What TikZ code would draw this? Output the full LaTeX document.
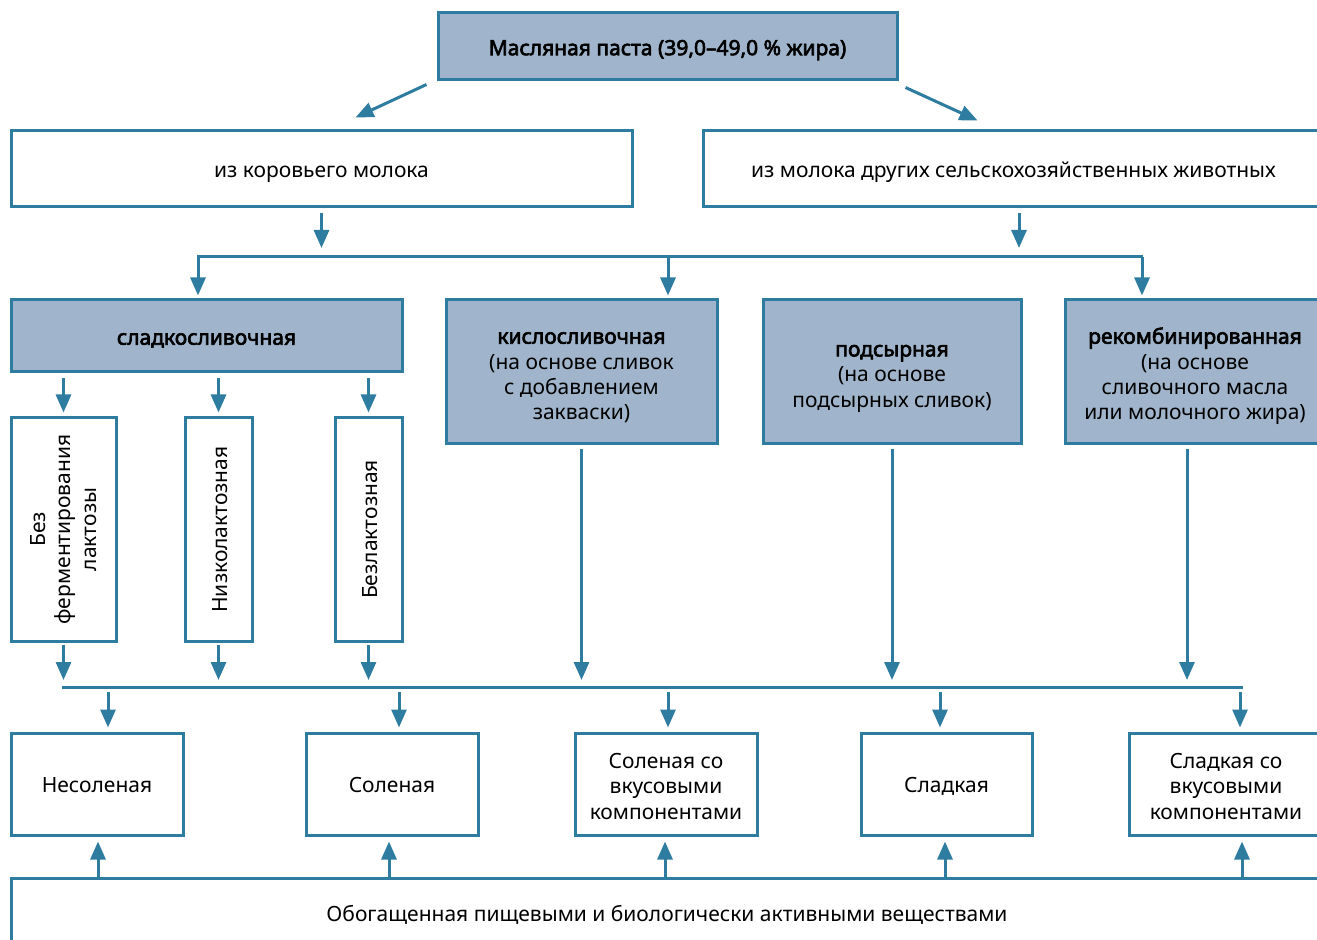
\documentclass[tikz,border=0pt]{standalone}
\usepackage{fontspec}
\setmainfont{Noto Sans}[BoldFont={Noto Sans},BoldFeatures={FakeBold=3}]
\usetikzlibrary{arrows.meta}
\definecolor{edge}{HTML}{2E7CA0}
\definecolor{boxfill}{HTML}{A0B5CB}
\newcommand{\lift}{\rule{0pt}{9.8pt}}

\begin{document}
\begin{tikzpicture}[x=0.5pt,y=-0.5pt,
    font=\fontsize{10.5}{12.7}\selectfont,
    box/.style={draw=edge,line width=1.5pt,fill=white,inner sep=0pt,align=center,text depth=0pt,
      execute at begin node={\rule{0pt}{8.7pt}}},
    head/.style={box,fill=boxfill},
    multi/.style={execute at begin node={}},
    upright/.style={box,rotate=90,text depth={},execute at begin node={}},
    arr/.style={draw=edge,line width=1.5pt,-{Triangle[length=9pt,width=7.5pt]}},
    bus/.style={draw=edge,line width=1.5pt}]
\useasboundingbox (0,0) rectangle (1317,940);
\clip (0,0) rectangle (1317,940);

% top
\node[head,minimum width=229.5pt,minimum height=33.5pt] (paste) at (667.5,46.5) {\bfseries Масляная паста (39,0–49,0~\% жира)};
\node[box,minimum width=310.5pt,minimum height=38pt] (cow) at (321.5,169) {из коровьего молока};
\node[box,minimum width=310.5pt,minimum height=38pt] (other) at (1013.5,169) {из молока других сельскохозяйственных животных};
\draw[arr] ([xshift=-5pt,yshift=-1.5pt]paste.south west) -- ([xshift=17pt,yshift=6pt]cow.north);
\draw[arr] ([xshift=3.5pt,yshift=-3pt]paste.south east) -- ([xshift=-18pt,yshift=4.5pt]other.north);

% kinds
\node[head,minimum width=195.5pt,minimum height=36pt] (sweet) at (206.5,336) {\bfseries сладкосливочная};
\node[head,multi,minimum width=135.5pt,minimum height=72pt] (sour) at (581.5,372) {\lift\textbf{кислосливочная}\\(на основе сливок\\с добавлением\\закваски)};
\node[head,multi,minimum width=129pt,minimum height=72pt] (cheese) at (892,372) {\lift\textbf{подсырная}\\(на основе\\подсырных сливок)};
\node[head,multi,minimum width=130pt,minimum height=72pt] (recomb) at (1195,372) {\lift\textbf{рекомбинированная}\\(на основе\\сливочного масла\\или молочного жира)};

\coordinate (busTL) at (197,257);
\coordinate (busTR) at (1143,257);
\draw[bus] (busTL) -- (busTR);
\draw[arr,shorten <=2.5pt,shorten >=4.5pt] (cow.south) -- (cow.south |- busTL);
\coordinate (tap) at (1019,0);
\draw[arr,shorten <=2.5pt,shorten >=4.5pt] (tap |- other.south) -- (tap |- busTL);
\foreach \x/\n in {198/sweet,668/sour,1142/recomb} {
  \coordinate (tap) at (\x,257);
  \draw[arr,shorten >=1.5pt] (tap) -- (tap |- \n.north);
}

% lactose
\node[upright,minimum width=111.5pt,minimum height=52.5pt] (lact0) at (63.5,529.5) {Без\\ферментирования\\лактозы};
\node[upright,minimum width=111.5pt,minimum height=33.5pt] (lact1) at (218.5,529.5) {Низколактозная};
\node[upright,minimum width=111.5pt,minimum height=33.5pt] (lact2) at (368.5,529.5) {Безлактозная};
\foreach \n in {lact0,lact1,lact2}
  \draw[arr,shorten <=2.5pt,shorten >=2pt] (sweet.south -| \n.east) -- (\n.east);

\coordinate (busL) at (62,687);
\coordinate (busR) at (1243,687);
\draw[bus] (busL) -- (busR);
\foreach \n in {lact0,lact1,lact2}
  \draw[arr,shorten <=1pt,shorten >=3.5pt] (\n.west) -- (\n.west |- busL);
\draw[arr,shorten <=2pt,shorten >=3.5pt] (sour.south) -- (sour.south |- busL);
\draw[arr,shorten <=2pt,shorten >=3.5pt] (cheese.south) -- (cheese.south |- busL);
\draw[arr,shorten <=2pt,shorten >=3.5pt] ([xshift=-4pt]recomb.south) -- ([xshift=-4pt]recomb.south |- busL);

% taste
\node[box,minimum width=86pt,minimum height=51pt] (salt0) at (97,784) {Несоленая};
\node[box,minimum width=86pt,minimum height=51pt] (salt1) at (392,784) {Соленая};
\node[box,multi,minimum width=91pt,minimum height=51pt] (salt2) at (666,784) {\lift Соленая со\\вкусовыми\\компонентами};
\node[box,minimum width=85.5pt,minimum height=51pt] (sweet0) at (946.5,784) {Сладкая};
\node[box,multi,minimum width=97pt,minimum height=51pt] (sweet1) at (1226,784) {\lift Сладкая со\\вкусовыми\\компонентами};
\foreach \x/\n in {108/salt0,399/salt1,668/salt2,940/sweet0,1240/sweet1} {
  \coordinate (tap) at (\x,692);
  \draw[arr,shorten >=2pt] (tap) -- (tap |- \n.north);
}

\node[box,minimum width=656pt,minimum height=35pt] (rich) at (667,913) {Обогащенная пищевыми и биологически активными веществами};
\foreach \x/\n in {98/salt0,389/salt1,665/salt2,945/sweet0,1242/sweet1} {
  \coordinate (tap) at (\x,0);
  \draw[arr,shorten >=2.5pt] (tap |- rich.north) -- (tap |- \n.south);
}
\end{tikzpicture}
\end{document}
